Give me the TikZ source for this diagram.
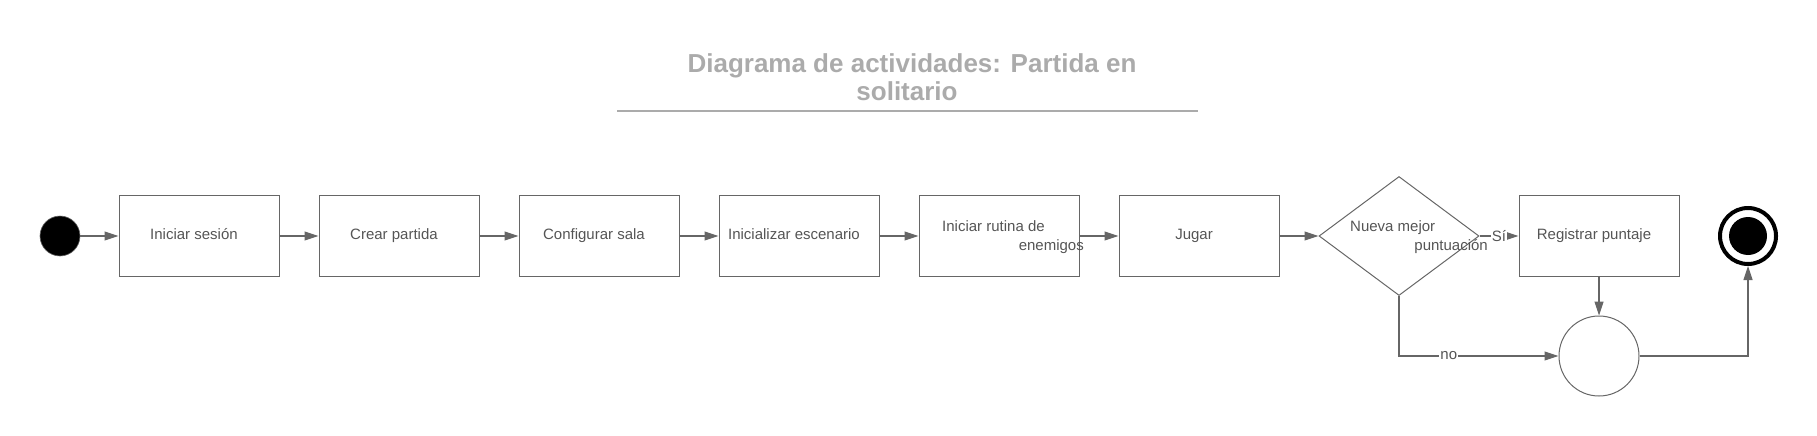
\documentclass[tikz,border=0pt]{standalone}
\usepackage{fontspec}
\setmainfont{Liberation Sans}
\usetikzlibrary{arrows.meta,shapes.geometric,calc}
\definecolor{lc}{HTML}{666666}
\definecolor{tc}{HTML}{555555}
\definecolor{ttl}{HTML}{ABABAB}
\begin{document}
\begin{tikzpicture}[x=1pt,y=-1pt,
  box/.style={draw=lc,line width=1pt,minimum width=160pt,minimum height=81pt,inner sep=0pt},
  txt/.style={text=tc,font=\fontsize{15pt}{18pt}\selectfont,inner sep=0pt,anchor=base},
  ttltxt/.style={text=ttl,font=\fontsize{26pt}{28pt}\selectfont\bfseries,inner sep=0pt,anchor=base},
  arr/.style={draw=lc,line width=1.1pt,-{Triangle[length=14pt,width=9pt]}},
  lbl/.style={fill=white,text=tc,font=\fontsize{15pt}{18pt}\selectfont,inner sep=1pt},
  startnode/.style={circle,fill=black,draw=lc,line width=0.6pt,minimum size=40pt,inner sep=0pt},
  mergenode/.style={circle,draw=lc,line width=1pt,minimum size=80pt,inner sep=0pt},
  decnode/.style={diamond,draw=lc,line width=1pt,minimum width=160pt,minimum height=119pt,inner sep=0pt},
  endring/.style={circle,draw=black,line width=4pt,minimum size=56pt,inner sep=0pt},
  enddot/.style={circle,fill=black,minimum size=38pt,inner sep=0pt}]
\useasboundingbox (0,0) rectangle (1817,436);

% title
\node[ttltxt] (title1) at (912,72) {Diagrama de actividades: Partida en};
\node[ttltxt] (title2) at (907,100) {solitario};
\coordinate (r1) at (617,111);
\coordinate (r2) at (1198,111);
\draw[draw=ttl,line width=1.5pt] (r1) -- (r2);

% nodes
\node[startnode] (s) at (60,236) {};
\node[box] (a1) at (199,236) {};
\node[box] (a2) at (399,236) {};
\node[box] (a3) at (599,236) {};
\node[box] (a4) at (799,236) {};
\node[box] (a5) at (999,236) {};
\node[box] (a6) at (1199,236) {};
\node[decnode] (d) at (1399,236) {};
\node[box] (reg) at (1599,236) {};
\node[mergenode] (m) at (1599,356) {};
\node[endring] (e) at (1748,236) {};
\node[enddot] (e2) at (e) {};

% texts
\node[txt] (t1) at (194,239) {Iniciar sesión};
\node[txt] (t2) at (394,239) {Crear partida};
\node[txt] (t3) at (594,239) {Configurar sala};
\node[txt] (t4) at (794,239) {Inicializar escenario};
\node[txt,anchor=base west] (t5a) at (942,231) {Iniciar rutina de};
\node[txt,anchor=base east] (t5b) at (1084,250) {enemigos};
\node[txt] (t6) at (1194,239) {Jugar};
\node[txt,anchor=base west] (tda) at (1350,231) {Nueva mejor};
\node[txt,anchor=base east] (tdb) at (1488,250) {puntuación};
\node[txt] (t7) at (1594,239) {Registrar puntaje};

% connectors
\draw[arr] (s) -- (a1);
\draw[arr] (a1) -- (a2);
\draw[arr] (a2) -- (a3);
\draw[arr] (a3) -- (a4);
\draw[arr] (a4) -- (a5);
\draw[arr] (a5) -- (a6);
\draw[arr] (a6) -- (d);
\draw[arr] (d) -- node[lbl] (ls) {Sí} (reg);
\draw[arr] (reg) -- (m);
\draw[arr] (d.south) |- node[lbl,pos=0.656] (ln) {no} (m.west);
\draw[arr] (m.east) -| (e.south);
\end{tikzpicture}
\end{document}
